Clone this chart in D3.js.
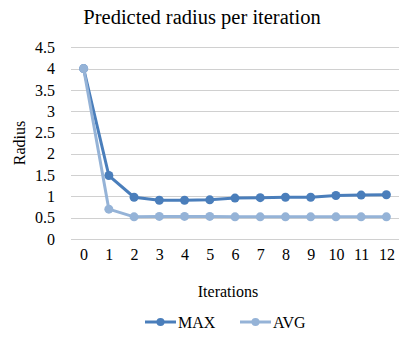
<!DOCTYPE html>
<html>
<head>
<meta charset="utf-8">
<script src="https://cdnjs.cloudflare.com/ajax/libs/d3/7.8.5/d3.min.js"></script>
<style>
  body { margin: 0; background: #fff; }
  svg text { font-family: "Liberation Serif", Tinos, "Times New Roman", Times, "DejaVu Serif", serif !important; fill: #000; }
</style>
</head>
<body>
<div id="chart-area"></div>
<script>
// data
var iterations = [0, 1, 2, 3, 4, 5, 6, 7, 8, 9, 10, 11, 12];
var maxValues = [4, 1.49, 0.98, 0.91, 0.91, 0.92, 0.96, 0.97, 0.98, 0.98, 1.02, 1.03, 1.04];
var avgValues = [4, 0.70, 0.52, 0.53, 0.53, 0.53, 0.52, 0.52, 0.52, 0.52, 0.52, 0.52, 0.52];
var yTicks = [0, 0.5, 1, 1.5, 2, 2.5, 3, 3.5, 4, 4.5];
var seriesNames = ["MAX", "AVG"];
var seriesColors = ["#4a7ebb", "#95b3d7"];

var W = 399, H = 337;
var plot = { left: 71, right: 399, top: 47.3, bottom: 239 };

var svg = d3.select("#chart-area")
  .append("svg")
  .attr("width", W)
  .attr("height", H);

var x = d3.scalePoint()
  .domain(iterations)
  .range([plot.left, plot.right])
  .padding(0.5);

var y = d3.scaleLinear()
  .domain([0, 4.5])
  .range([plot.bottom, plot.top]);

// gridlines
svg.append("g")
  .selectAll("line")
  .data(yTicks)
  .enter()
  .append("line")
    .attr("x1", plot.left)
    .attr("x2", plot.right)
    .attr("y1", function(d) { return Math.round(y(d)) + 0.5; })
    .attr("y2", function(d) { return Math.round(y(d)) + 0.5; })
    .attr("stroke", "#d0d0d0")
    .attr("stroke-width", 1);

// y axis labels
var yAxis = d3.axisLeft(y)
  .tickValues(yTicks)
  .tickSize(0)
  .tickPadding(0)
  .tickFormat(function(d) { return d; });

var yAxisGroup = svg.append("g")
  .attr("transform", "translate(55,0)")
  .call(yAxis);
yAxisGroup.select(".domain").remove();
yAxisGroup.attr("font-family", null).attr("font-size", null);
yAxisGroup.selectAll("text")
  .style("font-size", "16px");

// x axis labels
var xAxis = d3.axisBottom(x)
  .tickSize(0)
  .tickPadding(0);

var xAxisGroup = svg.append("g")
  .attr("transform", "translate(0,249)")
  .call(xAxis);
xAxisGroup.select(".domain").remove();
xAxisGroup.attr("font-family", null).attr("font-size", null);
xAxisGroup.selectAll("text")
  .style("font-size", "16px");

// lines
var line = d3.line()
  .x(function(d, i) { return x(iterations[i]); })
  .y(function(d) { return y(d); });

[maxValues, avgValues].forEach(function(vals, k) {
  var g = svg.append("g");
  g.append("path")
    .datum(vals)
    .attr("d", line)
    .attr("fill", "none")
    .attr("stroke", seriesColors[k])
    .attr("stroke-width", 3)
    .attr("stroke-linejoin", "round");
  g.selectAll("circle")
    .data(vals)
    .enter()
    .append("circle")
      .attr("cx", function(d, i) { return x(iterations[i]); })
      .attr("cy", function(d) { return y(d); })
      .attr("r", 4.5)
      .attr("fill", seriesColors[k]);
});

// title
svg.append("text")
  .attr("x", 202)
  .attr("y", 24)
  .attr("text-anchor", "middle")
  .style("font-size", "20.5px")
  .text("Predicted radius per iteration");

// axis titles
svg.append("text")
  .attr("transform", "translate(25,143) rotate(-90)")
  .attr("text-anchor", "middle")
  .style("font-size", "16px")
  .text("Radius");

svg.append("text")
  .attr("x", 228)
  .attr("y", 297)
  .attr("text-anchor", "middle")
  .style("font-size", "16px")
  .text("Iterations");

// legend
var legendX = [145, 240];
var legend = svg.selectAll(".legend")
  .data(seriesNames)
  .enter()
  .append("g")
    .attr("class", "legend")
    .attr("transform", function(d, i) { return "translate(" + legendX[i] + ",322)"; });

legend.append("line")
  .attr("x1", 0)
  .attr("x2", 31)
  .attr("stroke", function(d, i) { return seriesColors[i]; })
  .attr("stroke-width", 3);
legend.append("circle")
  .attr("cx", 15.5)
  .attr("r", 4)
  .attr("fill", function(d, i) { return seriesColors[i]; });
legend.append("text")
  .attr("x", 33)
  .attr("y", 5.5)
  .style("font-size", "16px")
  .text(function(d) { return d; });
</script>
</body>
</html>
